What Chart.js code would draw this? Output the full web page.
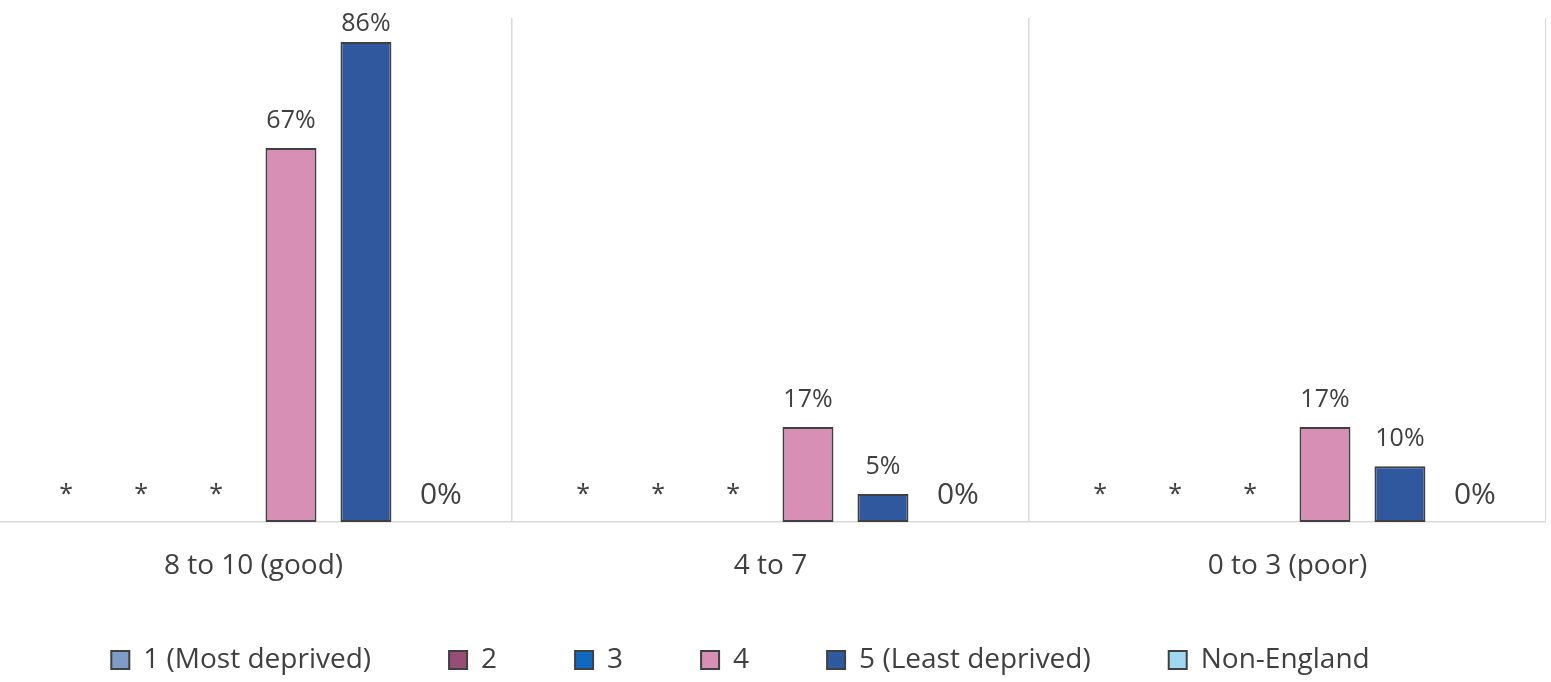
<!DOCTYPE html>
<html>
<head>
<meta charset="utf-8">
<script src="https://cdn.jsdelivr.net/npm/chart.js@4/dist/chart.umd.min.js"></script>
<style>
  html, body { margin: 0; padding: 0; background: #fff; overflow: hidden; }
  #wrap { position: absolute; left: -5px; top: 0; width: 1551px; height: 682px; }
</style>
</head>
<body>
<div id="wrap"><canvas id="chart"></canvas></div>
<script>
// categories and series (percent); null = suppressed, shown as "*"
const categories = ['8 to 10 (good)', '4 to 7', '0 to 3 (poor)'];
const seriesNames = ['1 (Most deprived)', '2', '3', '4', '5 (Least deprived)', 'Non-England'];
const q1 = [null, null, null];
const q2 = [null, null, null];
const q3 = [null, null, null];
const q4 = [67, 17, 17];
const q5 = [86, 5, 10];
const nonEngland = [0, 0, 0];
const SUPPRESSED = '*';

// styling per series
const colours = ['#7f9cc9', '#964d76', '#1068c0', '#d78fb6', '#30589e', '#9fd8ef'];
const labelSizes = [25, 25, 25, 25, 25, 30];

const FONT = '"Open Sans", "DejaVu Sans", sans-serif';
const TEXT = '#404040';

const valueLabels = {
    id: 'valueLabels',
    afterDatasetsDraw(chart) {
        const {ctx, chartArea, scales: {y}} = chart;
        ctx.save();
        ctx.fillStyle = TEXT;
        ctx.textAlign = 'center';
        ctx.textBaseline = 'middle';
        chart.data.datasets.forEach((ds, di) => {
            const size = labelSizes[di];
            ctx.font = size + 'px ' + FONT;
            chart.getDatasetMeta(di).data.forEach((bar, i) => {
                const v = ds.data[i];
                const txt = v === null ? SUPPRESSED : v + '%';
                const ty = Math.max(y.getPixelForValue(v ?? 0) - 27, chartArea.top + 6);
                ctx.fillText(txt, bar.x, ty);
            });
        });
        ctx.restore();
    }
};

// legend in the original sits a bit left of centre and closer to the axis labels
const legendShift = {
    id: 'legendShift',
    afterLayout(chart) {
        const lg = chart.legend;
        lg.left -= 30;
        lg.right -= 30;
        lg.top -= 16;
    }
};

const data = [q1, q2, q3, q4, q5, nonEngland];

new Chart(document.getElementById('chart'), {
    type: 'bar',
    data: {
        labels: categories,
        datasets: data.map((d, i) => ({
            label: seriesNames[i],
            data: d,
            backgroundColor: colours[i],
            borderColor: '#404040',
            borderWidth: 2,
            borderSkipped: false,
            categoryPercentage: 0.87,
            barPercentage: 0.68
        }))
    },
    options: {
        responsive: true,
        maintainAspectRatio: false,
        animation: false,
        layout: { padding: { top: 18, left: 0, right: 0, bottom: 0 } },
        scales: {
            x: {
                grid: { offset: true, color: '#d9d9d9', lineWidth: 1.5, drawTicks: false },
                border: { color: '#d9d9d9', width: 1.5 },
                ticks: { color: TEXT, font: { family: FONT, size: 28 }, padding: 27 },
                afterFit: s => { s.height = 62; }
            },
            y: {
                display: false,
                min: 0,
                max: 90.3
            }
        },
        plugins: {
            tooltip: { enabled: false },
            legend: {
                position: 'bottom',
                maxHeight: 98,
                labels: {
                    color: TEXT,
                    font: { family: FONT, size: 28 },
                    boxWidth: 18,
                    boxHeight: 18,
                    padding: 78
                }
            }
        }
    },
    plugins: [valueLabels, legendShift]
});
</script>
</body>
</html>
